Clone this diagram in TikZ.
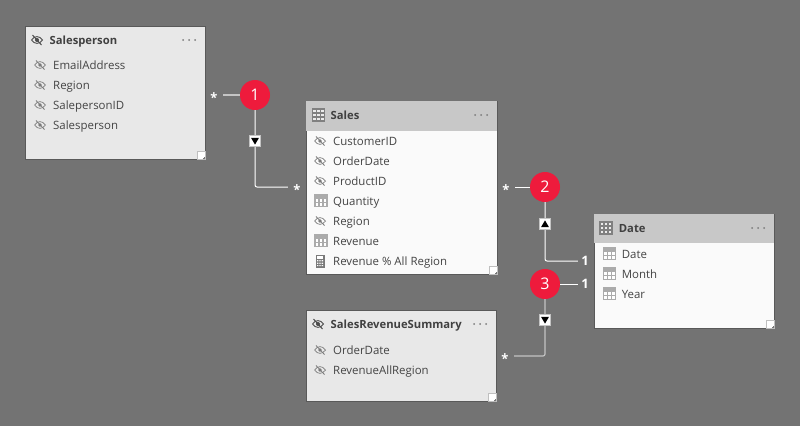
\documentclass[tikz,border=0pt]{standalone}
\usepackage{fontspec}
\setmainfont{Open Sans}
\usetikzlibrary{arrows}
\definecolor{canvasgrey}{HTML}{737373}
\definecolor{hiddenfill}{HTML}{E8E8E8}
\definecolor{bodyfill}{HTML}{FAFAFA}
\definecolor{headfill}{HTML}{C8C8C8}
\definecolor{inktext}{HTML}{444444}
\definecolor{iconink}{HTML}{7A7A7A}
\definecolor{gridink}{HTML}{ABABAB}
\definecolor{badgered}{HTML}{EE1B3C}
\definecolor{softline}{HTML}{C4C4C4}
\newcommand{\manymark}{\raisebox{-7.8pt}{*}}
\tikzset{
  table/.style={draw=black!65,line width=0.6pt,anchor=north west,inner sep=0pt},
  head/.style={fill=headfill,anchor=north west,inner sep=0pt},
  title/.style={anchor=west,inner sep=0pt,text=black!75,text height=10pt,text depth=2pt,font=\fontsize{11.25}{13}\selectfont\bfseries},
  row/.style={anchor=west,inner sep=0pt,text=inktext,text height=10pt,text depth=2pt,font=\fontsize{11.45}{13}\selectfont},
  grip/.style={draw=black!25,fill=white,line width=0.5pt,anchor=south east,inner sep=0pt,minimum size=7.5pt},
  badge/.style={circle,fill=badgered,text=white,inner sep=0pt,minimum size=30pt,font=\fontsize{16}{18}\selectfont},
  many/.style={inner sep=0pt,minimum size=18pt,text=white,text height=0pt,text depth=0pt,font=\fontsize{13}{13}\selectfont\bfseries},
  one/.style={inner sep=0pt,minimum width=14pt,minimum height=12pt,text=white,font=\fontsize{13}{13}\selectfont\bfseries},
  rel/.style={draw=white,line width=1pt,rounded corners=2pt},
  softrel/.style={draw=softline,line width=1.2pt,rounded corners=2pt},
  dirbox/.style={draw=softline,fill=white,line width=1pt,inner sep=0pt,minimum size=11pt},
  hidden/.pic={
    \draw[iconink,line width=0.7pt] (-5.5,0) .. controls (-2.5,-4.5) and (2.5,-4.5) .. (5.5,0)
      .. controls (2.5,4.5) and (-2.5,4.5) .. (-5.5,0);
    \fill[iconink] (0,0) circle[radius=1.8];
    \draw[iconink,line width=0.8pt] (-4,-4.5) -- (4.5,4.5);
  },
  boldhidden/.pic={
    \draw[black!70,line width=0.9pt] (-5.5,0) .. controls (-2.5,-4.5) and (2.5,-4.5) .. (5.5,0)
      .. controls (2.5,4.5) and (-2.5,4.5) .. (-5.5,0);
    \fill[black!70] (0,0) circle[radius=2];
    \draw[black!70,line width=1pt] (-4.5,-5) -- (4.5,5);
  },
  gridicon/.pic={
    \fill[white] (-6,-6) rectangle (6,5.5);
    \fill[gridink] (-6,-6) rectangle (6,-2.5);
    \draw[gridink,line width=1.1pt] (-6,-6) rectangle (6,5.5)
      (-2,-2.5) -- (-2,5.5) (2,-2.5) -- (2,5.5) (-6,1.5) -- (6,1.5);
  },
  headgrid/.pic={
    \fill[white!85!iconink] (-6,-6) rectangle (6,6);
    \draw[black!50,line width=1.1pt] (-6,-6) rectangle (6,6)
      (-2,-6) -- (-2,6) (2,-6) -- (2,6) (-6,-2) -- (6,-2) (-6,2) -- (6,2);
  },
  calcicon/.pic={
    \fill[iconink] (-4.5,-6.5) rectangle (4.5,6.5);
    \fill[white] (-3,-5) rectangle (3,-2.5);
    \fill[white] (-3,-1) rectangle (-1.6,0.4) (-0.7,-1) rectangle (0.7,0.4) (1.6,-1) rectangle (3,0.4);
    \fill[white] (-3,1.5) rectangle (-1.6,2.9) (-0.7,1.5) rectangle (0.7,2.9) (1.6,1.5) rectangle (3,2.9);
    \fill[white] (-3,4) rectangle (-1.6,5.2) (-0.7,4) rectangle (0.7,5.2) (1.6,4) rectangle (3,5.2);
  },
  dots/.pic={
    \fill[iconink] (-6,0) circle[radius=1] (0,0) circle[radius=1] (6,0) circle[radius=1];
  },
  gripmark/.pic={
    \fill[black!65] (-1.8,-0.8) circle[radius=0.5] (-0.8,-1.8) circle[radius=0.5] (-0.8,-0.8) circle[radius=0.5];
  },
  tipdown/.pic={\fill[black] (-4,-3.2) -- (4,-3.2) -- (0,3.6) -- cycle;},
  tipup/.pic={\fill[black] (-4,3.2) -- (4,3.2) -- (0,-3.6) -- cycle;}
}

\begin{document}
\begin{tikzpicture}[x=1pt,y=-1pt]

  \fill[canvasgrey] (0,0) rectangle (800,426);
  \useasboundingbox (0,0) rectangle (800,426);

  \node[table,fill=hiddenfill,minimum width=180pt,minimum height=133pt] (salesperson) at (24.7,25.7) {};
  \node[title] (salespersonTitle) at (49.5,40) {Salesperson};
  \pic at (37,40) {boldhidden};
  \pic at (189,40) {dots};
  \node[grip] (salespersonGrip) at (salesperson.south east) {};
  \pic at (salespersonGrip.south east) {gripmark};
  \node[row] (salespersonEmail) at (53,65) {EmailAddress};
  \node[row] (salespersonRegion) at (53,85) {Region};
  \node[row] (salespersonID) at (53,105) {SalepersonID};
  \node[row] (salespersonName) at (53,125) {Salesperson};
  \pic at (40,65) {hidden};
  \pic at (40,85) {hidden};
  \pic at (40,105) {hidden};
  \pic at (40,125) {hidden};

  \node[table,fill=bodyfill,minimum width=191pt,minimum height=173pt] (sales) at (305.7,100.7) {};
  \node[head,minimum width=190.4pt,minimum height=29.7pt] (salesHead) at (306,101) {};
  \node[title] (salesTitle) at (330.5,115) {Sales};
  \pic at (318.5,115) {headgrid};
  \pic at (481,115) {dots};
  \node[grip] (salesGrip) at (sales.south east) {};
  \pic at (salesGrip.south east) {gripmark};
  \node[row] (salesCustomer) at (333,141) {CustomerID};
  \node[row] (salesOrder) at (333,161) {OrderDate};
  \node[row] (salesProduct) at (333,181) {ProductID};
  \node[row] (salesQuantity) at (333,201) {Quantity};
  \node[row] (salesRegion) at (333,221) {Region};
  \node[row] (salesRevenue) at (333,241) {Revenue};
  \node[row] (salesPercent) at (333,261) {Revenue \% All Region};
  \pic at (320,141) {hidden};
  \pic at (320,161) {hidden};
  \pic at (320,181) {hidden};
  \pic at (321,201) {gridicon};
  \pic at (320,221) {hidden};
  \pic at (321,241) {gridicon};
  \pic at (320,261) {calcicon};

  \node[table,fill=bodyfill,minimum width=180pt,minimum height=114pt] (date) at (593.7,213.7) {};
  \node[head,minimum width=179.4pt,minimum height=29pt] (dateHead) at (594,214) {};
  \node[title] (dateTitle) at (618.7,228) {Date};
  \pic at (606,228) {headgrid};
  \pic at (758,228) {dots};
  \node[grip] (dateGrip) at (date.south east) {};
  \pic at (dateGrip.south east) {gripmark};
  \node[row] (dateDate) at (621.6,254) {Date};
  \node[row] (dateMonth) at (621.6,274) {Month};
  \node[row] (dateYear) at (621.6,294) {Year};
  \pic at (609.5,254) {gridicon};
  \pic at (609.5,274) {gridicon};
  \pic at (609.5,294) {gridicon};

  \node[table,fill=hiddenfill,minimum width=190pt,minimum height=91pt] (summary) at (305.7,309.7) {};
  \node[title] (summaryTitle) at (330.5,324) {SalesRevenueSummary};
  \pic at (318,324) {boldhidden};
  \pic at (480,324) {dots};
  \node[grip] (summaryGrip) at (summary.south east) {};
  \pic at (summaryGrip.south east) {gripmark};
  \node[row] (summaryOrder) at (333,350) {OrderDate};
  \node[row] (summaryRevenue) at (333,370) {RevenueAllRegion};
  \pic at (320,350) {hidden};
  \pic at (320,370) {hidden};

  \node[many] (manyA) at (214,95) {\manymark};
  \node[many] (manyB) at (297,187) {\manymark};
  \node[many] (manyC) at (506,187) {\manymark};
  \node[many] (manyD) at (505,356) {\manymark};
  \node[one] (oneA) at (585,261) {1};
  \node[one] (oneB) at (585,284) {1};

  \node[badge] (badgeA) at (255,95) {1};
  \node[badge] (badgeB) at (545,187) {2};
  \node[badge] (badgeC) at (545,284) {3};

  \path[softrel] (badgeA) edge (manyA);
  \draw[rel] (badgeA) |- (manyB);
  \path[rel,sharp corners] (badgeB) edge (manyC);
  \draw[rel] (badgeB) |- (oneA);
  \path[rel,sharp corners] (badgeC) edge (oneB);
  \draw[softrel] (badgeC) |- (manyD);

  \node[dirbox] (dirA) at (255,141) {};
  \node[dirbox] (dirB) at (545,224) {};
  \node[dirbox] (dirC) at (545,320) {};
  \pic at (dirA) {tipdown};
  \pic at (dirB) {tipup};
  \pic at (dirC) {tipdown};
\end{tikzpicture}
\end{document}
